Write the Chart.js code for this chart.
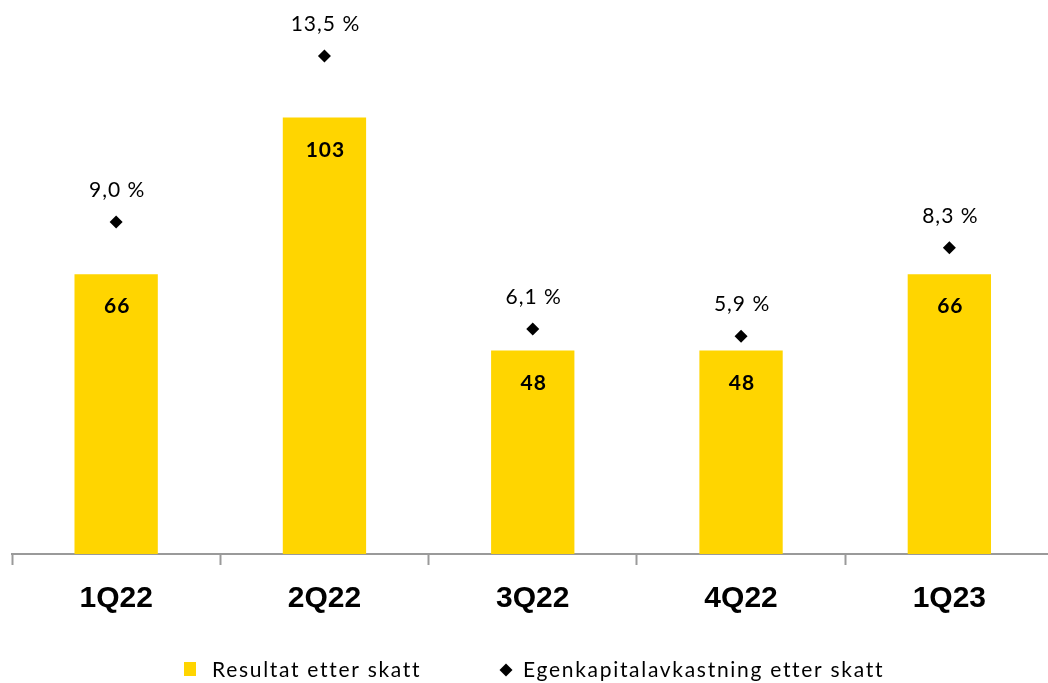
<!DOCTYPE html>
<html>
<head>
<meta charset="utf-8">
<script src="https://cdn.jsdelivr.net/npm/chart.js@4.4.0/dist/chart.umd.min.js"></script>
<style>
  html, body { margin: 0; padding: 0; background: #fff; overflow: hidden; }
  #wrap { width: 1060px; height: 683px; }
</style>
</head>
<body>
<div id="wrap"><canvas id="resultChart" width="1060" height="683"></canvas></div>
<script>
const quarters = ['1Q22', '2Q22', '3Q22', '4Q22', '1Q23'];
const resultAfterTax = [66, 103, 48, 48, 66];
const returnOnEquity = [9.0, 13.5, 6.1, 5.9, 8.3];
const seriesNames = ['Resultat etter skatt', 'Egenkapitalavkastning etter skatt'];

const YELLOW = '#FFD500';
const AXIS_GREY = '#9a9a9a';

function pct(v) {
    return v.toFixed(1).replace('.', ',') + ' %';
}

// numbers inside the bars and percentages above the diamonds
const valueLabels = {
    id: 'valueLabels',
    afterDatasetsDraw(chart) {
        const ctx = chart.ctx;
        ctx.save();
        ctx.fillStyle = '#000';
        ctx.textAlign = 'center';
        ctx.textBaseline = 'alphabetic';

        ctx.font = 'bold 21px Lato';
        ctx.letterSpacing = '1px';
        chart.getDatasetMeta(0).data.forEach((bar, i) => {
            ctx.fillText(String(resultAfterTax[i]), bar.x + 1, bar.y + 39);
        });

        ctx.font = '21px Lato';
        ctx.letterSpacing = '1px';
        chart.getDatasetMeta(1).data.forEach((pt, i) => {
            ctx.fillText(pct(returnOnEquity[i]), pt.x + 1, pt.y - 25);
        });
        ctx.restore();
    }
};

// legend under the axis labels
const bottomLegend = {
    id: 'bottomLegend',
    afterDraw(chart) {
        const ctx = chart.ctx;
        ctx.save();
        ctx.font = '21px Lato';
        ctx.letterSpacing = '1.7px';
        ctx.textBaseline = 'alphabetic';

        const baseY = 677;
        ctx.fillStyle = YELLOW;
        ctx.fillRect(184, 662, 12, 14);
        ctx.fillStyle = '#000';
        ctx.fillText(chart.data.datasets[0].label, 212, baseY);

        const cx = 506, cy = 670, r = 6.5;
        ctx.beginPath();
        ctx.moveTo(cx - r, cy);
        ctx.lineTo(cx, cy - r);
        ctx.lineTo(cx + r, cy);
        ctx.lineTo(cx, cy + r);
        ctx.closePath();
        ctx.fill();
        ctx.fillText(chart.data.datasets[1].label, 523, baseY);
        ctx.restore();
    }
};

const ctx = document.getElementById('resultChart').getContext('2d');
new Chart(ctx, {
    data: {
        labels: quarters,
        datasets: [{
            type: 'bar',
            label: seriesNames[0],
            data: resultAfterTax,
            backgroundColor: YELLOW,
            yAxisID: 'y',
            barPercentage: 0.8,
            categoryPercentage: 0.5,
            order: 2
        }, {
            type: 'line',
            label: seriesNames[1],
            data: returnOnEquity,
            showLine: false,
            pointStyle: 'rectRot',
            pointRadius: 6.5,
            pointHoverRadius: 6.5,
            backgroundColor: '#000',
            borderColor: '#000',
            borderWidth: 0,
            yAxisID: 'y1',
            order: 1
        }]
    },
    options: {
        responsive: false,
        animation: false,
        devicePixelRatio: 1,
        layout: {
            padding: { left: 12, right: 6, top: 2, bottom: 0 }
        },
        scales: {
            x: {
                z: 1,
                grid: {
                    offset: true,
                    drawOnChartArea: false,
                    drawTicks: true,
                    tickLength: 11,
                    tickWidth: 2,
                    tickColor: AXIS_GREY
                },
                border: { display: true, color: AXIS_GREY, width: 2 },
                ticks: {
                    color: '#000',
                    padding: 16,
                    font: { family: 'Liberation Sans', size: 30, weight: 'bold' }
                },
                afterFit(scale) {
                    scale.height = 129;
                }
            },
            y: {
                display: false,
                min: 0,
                max: 129.2
            },
            y1: {
                display: false,
                min: 0,
                max: 14.84
            }
        },
        plugins: {
            legend: { display: false },
            tooltip: { enabled: false }
        }
    },
    plugins: [valueLabels, bottomLegend]
});
</script>
</body>
</html>
